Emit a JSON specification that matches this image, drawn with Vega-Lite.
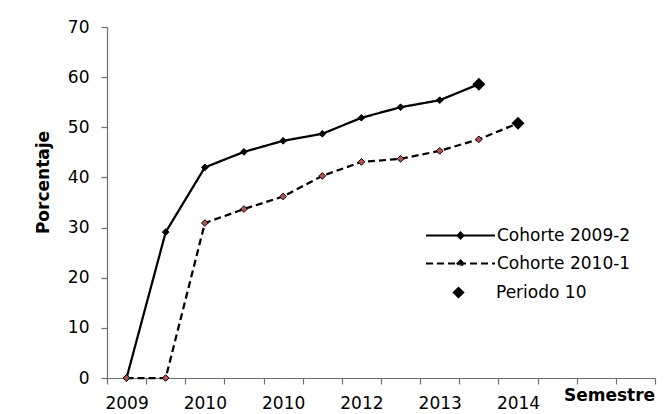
{
  "$schema": "https://vega.github.io/schema/vega-lite/v6.json",
  "width": 548,
  "height": 351,
  "autosize": {"type": "none"},
  "padding": {"left": 107, "top": 27, "right": 10, "bottom": 36},
  "background": "white",
  "config": {
    "view": {"stroke": null},
    "font": "DejaVu Sans",
    "axis": {"grid": false, "domainColor": "#6e6e6e", "tickColor": "#6e6e6e", "domainWidth": 1.2, "tickWidth": 1.2, "labelColor": "black", "titleColor": "black", "labelFont": "DejaVu Sans", "titleFont": "DejaVu Sans"},
    "legend": {"symbolStrokeColor": "black", "symbolOpacity": 1, "labelFont": "DejaVu Sans", "labelFontSize": 17, "labelColor": "black", "padding": 0}
  },
  "data": {
    "values": [
      {"serie": "Cohorte 2009-2", "semestre": 1, "valor": 0},
      {"serie": "Cohorte 2009-2", "semestre": 2, "valor": 29.1},
      {"serie": "Cohorte 2009-2", "semestre": 3, "valor": 42.0},
      {"serie": "Cohorte 2009-2", "semestre": 4, "valor": 45.1},
      {"serie": "Cohorte 2009-2", "semestre": 5, "valor": 47.3},
      {"serie": "Cohorte 2009-2", "semestre": 6, "valor": 48.7},
      {"serie": "Cohorte 2009-2", "semestre": 7, "valor": 51.9},
      {"serie": "Cohorte 2009-2", "semestre": 8, "valor": 54.0},
      {"serie": "Cohorte 2009-2", "semestre": 9, "valor": 55.4},
      {"serie": "Cohorte 2009-2", "semestre": 10, "valor": 58.6},
      {"serie": "Cohorte 2010-1", "semestre": 1, "valor": 0},
      {"serie": "Cohorte 2010-1", "semestre": 2, "valor": 0},
      {"serie": "Cohorte 2010-1", "semestre": 3, "valor": 30.9},
      {"serie": "Cohorte 2010-1", "semestre": 4, "valor": 33.7},
      {"serie": "Cohorte 2010-1", "semestre": 5, "valor": 36.2},
      {"serie": "Cohorte 2010-1", "semestre": 6, "valor": 40.3},
      {"serie": "Cohorte 2010-1", "semestre": 7, "valor": 43.1},
      {"serie": "Cohorte 2010-1", "semestre": 8, "valor": 43.7},
      {"serie": "Cohorte 2010-1", "semestre": 9, "valor": 45.3},
      {"serie": "Cohorte 2010-1", "semestre": 10, "valor": 47.6},
      {"serie": "Cohorte 2010-1", "semestre": 11, "valor": 50.8},
      {"serie": "Periodo 10", "semestre": 10, "valor": 58.6},
      {"serie": "Periodo 10", "semestre": 11, "valor": 50.8}
    ]
  },
  "encoding": {
    "x": {
      "field": "semestre",
      "type": "quantitative",
      "scale": {"domain": [0.5, 14.5], "nice": false, "zero": false},
      "axis": {
        "values": [0.5, 1, 1.5, 2, 2.5, 3, 3.5, 4, 4.5, 5, 5.5, 6, 6.5, 7, 7.5, 8, 8.5, 9, 9.5, 10, 10.5, 11, 11.5, 12, 12.5, 13, 13.5, 14, 14.5],
        "labelExpr": "datum.value % 1 == 0 ? ['','2009','','2010','','2010','','2012','','2013','','2014','','','',''][datum.value] : ''",
        "labelOverlap": false,
        "labelBound": false,
        "labelFlush": false,
        "tickSize": 6,
        "tickOpacity": {"condition": {"test": "datum.value % 1 == 0", "value": 0}, "value": 1},
        "labelFontSize": 17,
        "labelBaseline": "alphabetic",
        "labelPadding": 24,
        "title": "Semestre",
        "titleFontSize": 17,
        "titleFontWeight": "bold",
        "titleX": 502,
        "titleY": 22,
        "titleAlign": "center",
        "titleBaseline": "alphabetic"
      }
    },
    "y": {
      "field": "valor",
      "type": "quantitative",
      "scale": {"domain": [0, 70], "nice": false},
      "axis": {
        "values": [0, 10, 20, 30, 40, 50, 60, 70],
        "tickSize": 6,
        "labelPadding": 12,
        "labelFontSize": 17,
        "labelBaseline": "middle",
        "title": "Porcentaje",
        "titleFontSize": 17,
        "titleFontWeight": "bold",
        "titleX": -64,
        "titleY": 155,
        "titleAngle": -90,
        "titleAlign": "center",
        "titleBaseline": "middle"
      }
    }
  },
  "layer": [
    {
      "transform": [{"filter": "datum.serie != 'Periodo 10'"}],
      "mark": {"type": "line", "color": "black", "strokeWidth": 2.25},
      "encoding": {
        "strokeDash": {
          "field": "serie",
          "type": "nominal",
          "scale": {"domain": ["Cohorte 2009-2", "Cohorte 2010-1"], "range": [[1, 0], [7, 4]]},
          "legend": {"orient": "none", "legendX": 345, "legendY": 200, "title": null, "symbolSize": 100, "symbolType": "M-6.9,0H6.9M0,-0.6L0.6,0L0,0.6L-0.6,0Z", "symbolStrokeWidth": 2, "labelOffset": 28, "rowPadding": 10}
        }
      }
    },
    {
      "transform": [{"filter": "datum.serie != 'Periodo 10'"}],
      "mark": {"type": "point", "shape": "diamond", "filled": true, "size": 45, "stroke": "black", "strokeWidth": 1, "opacity": 1},
      "encoding": {
        "fill": {
          "field": "serie",
          "type": "nominal",
          "scale": {"domain": ["Cohorte 2009-2", "Cohorte 2010-1"], "range": ["black", "#c0504d"]},
          "legend": {"orient": "none", "legendX": 345, "legendY": 200, "title": null, "symbolSize": 100, "symbolType": "M-6.9,0H6.9M0,-0.6L0.6,0L0,0.6L-0.6,0Z", "symbolStrokeWidth": 2, "labelOffset": 28, "rowPadding": 10}
        }
      }
    },
    {
      "transform": [{"filter": "datum.serie == 'Periodo 10'"}],
      "mark": {"type": "point", "filled": true, "size": 170, "color": "black", "opacity": 1},
      "encoding": {
        "shape": {
          "field": "serie",
          "type": "nominal",
          "scale": {"domain": ["Periodo 10"], "range": ["diamond"]},
          "legend": {"orient": "none", "legendX": 343, "legendY": 257, "title": null, "symbolSize": 150, "symbolFillColor": "black", "symbolStrokeWidth": 0, "labelOffset": 29}
        }
      }
    }
  ]
}
